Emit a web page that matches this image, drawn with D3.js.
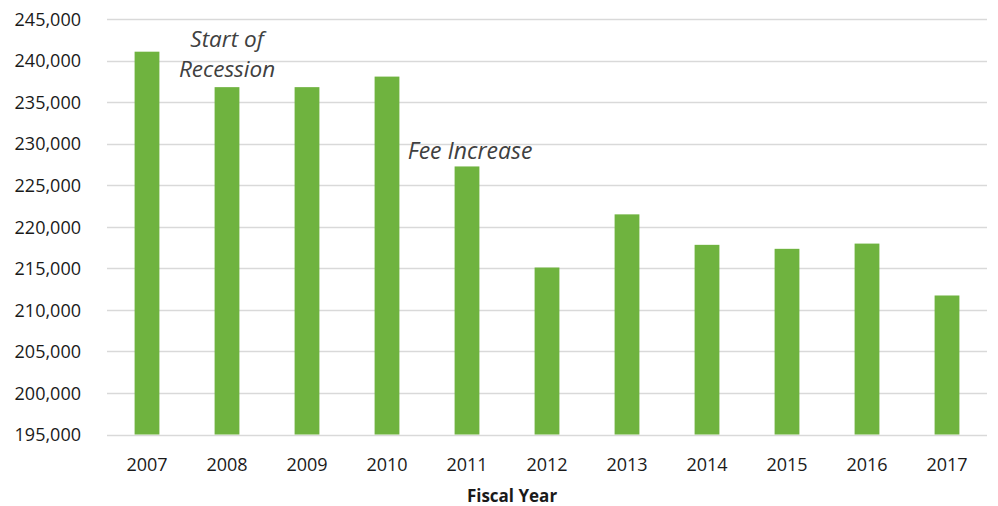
<!DOCTYPE html>
<html>
<head>
<meta charset="utf-8">
<script src="https://cdn.jsdelivr.net/npm/d3@7"></script>
<style>
  html, body { margin: 0; padding: 0; background: #fff; }
  svg { display: block; }
</style>
</head>
<body>
<svg id="chart" width="998" height="506"></svg>
<script>
const years = ["2007","2008","2009","2010","2011","2012","2013","2014","2015","2016","2017"];
const enrollment = [241100, 236830, 236830, 238100, 227280, 215110, 221510, 217840, 217360, 217990, 211740];
const yTicks = [195000, 200000, 205000, 210000, 215000, 220000, 225000, 230000, 235000, 240000, 245000];
const annotations = [
  { year: "2008", lines: ["Start of", "Recession"] },
  { year: "2011", lines: ["Fee Increase"] }
];
const xTitle = "Fiscal Year";

const svg = d3.select("#chart");
const margin = { left: 107, right: 11, top: 19.3, bottom: 71.5 };
const W = 998, H = 506;

const x = d3.scaleBand().domain(years).range([margin.left, W - margin.right]).paddingInner(0.69).paddingOuter(0.345);
const y = d3.scaleLinear().domain([195000, 245000]).range([H - margin.bottom, margin.top]);

const font = "'Open Sans', 'Noto Sans', sans-serif";

// gridlines
svg.append("g").selectAll("line").data(yTicks).join("line")
  .attr("x1", margin.left).attr("x2", W - margin.right)
  .attr("y1", d => Math.round(y(d)) + 0.5).attr("y2", d => Math.round(y(d)) + 0.5)
  .attr("stroke", "#d9d9d9").attr("stroke-width", 1.3);

// y axis labels
const yAxis = d3.axisLeft(y).tickValues(yTicks).tickFormat(d3.format(",")).tickSize(0).tickPadding(0);
const gy = svg.append("g").attr("transform", `translate(81,0)`).call(yAxis);
gy.select(".domain").remove();
gy.selectAll("text").attr("font-family", font).attr("font-size", "18px").attr("fill", "#1a1a1a").attr("dy", "0.34em");

// bars
svg.append("g").selectAll("rect").data(years).join("rect")
  .attr("x", d => x(d))
  .attr("width", x.bandwidth())
  .attr("y", (d, i) => y(enrollment[i]))
  .attr("height", (d, i) => y(195000) - y(enrollment[i]))
  .attr("fill", "#6fb33f");

// x axis labels
const xAxis = d3.axisBottom(x).tickSize(0).tickPadding(0);
const gx = svg.append("g").attr("transform", `translate(0,${y(195000)})`).call(xAxis);
gx.select(".domain").remove();
gx.selectAll("text").attr("font-family", font).attr("font-size", "18px").attr("fill", "#1a1a1a").attr("dy", "0").attr("y", 36);

// x title
svg.append("text").attr("x", 512).attr("y", 501.5).attr("text-anchor", "middle")
  .attr("font-family", font).attr("font-size", "17px").attr("font-weight", "bold").attr("fill", "#1a1a1a")
  .text(xTitle);

// annotations
const ann = svg.append("g");
const cx08 = x("2008") + x.bandwidth() / 2;
ann.append("text").attr("x", cx08).attr("y", 46.7).attr("text-anchor", "middle")
  .attr("font-family", font).attr("font-size", "22.5px").attr("font-style", "italic").attr("fill", "#404040")
  .selectAll("tspan").data(annotations[0].lines).join("tspan")
  .attr("x", cx08).attr("dy", (d, i) => i === 0 ? 0 : 30).text(d => d);
ann.append("text").attr("x", 470).attr("y", 159.3).attr("text-anchor", "middle")
  .attr("font-family", font).attr("font-size", "23px").attr("font-style", "italic").attr("fill", "#404040")
  .text(annotations[1].lines[0]);
</script>
</body>
</html>
